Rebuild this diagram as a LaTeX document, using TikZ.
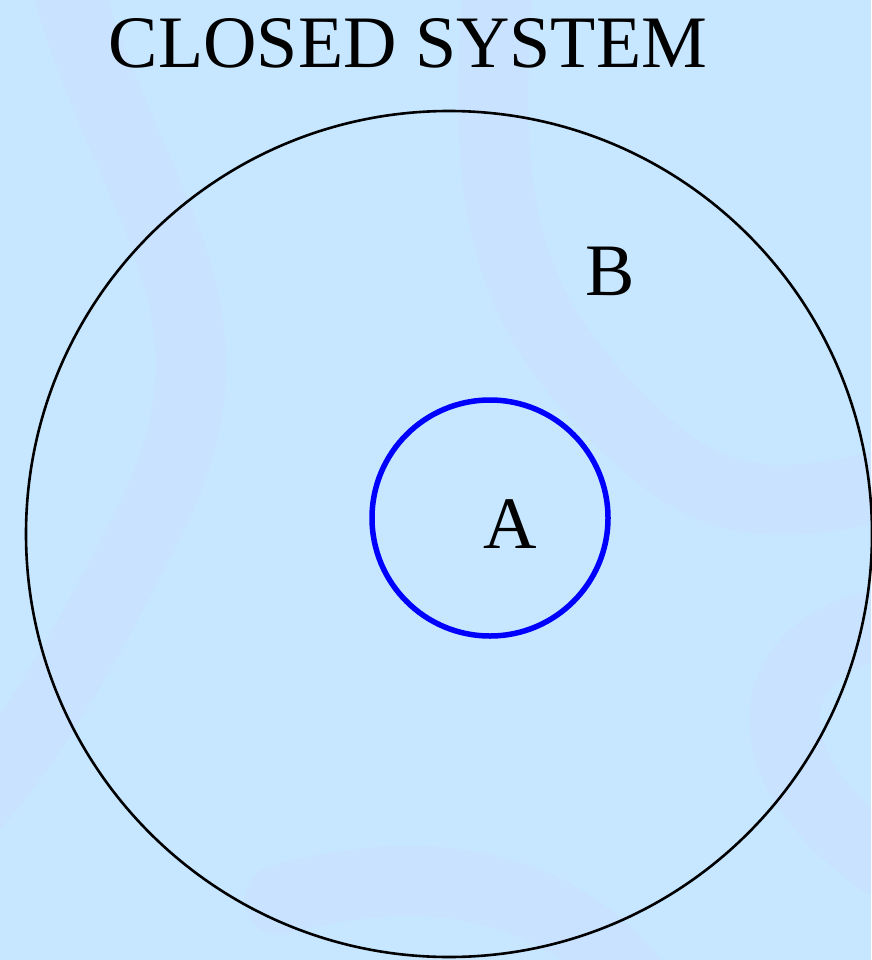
\documentclass[tikz,border=0pt]{standalone}
\usepackage{fontspec}
\setmainfont{Liberation Serif}
\definecolor{bgBlue}{RGB}{198,231,255}
\definecolor{swirlBlue}{RGB}{200,226,255}
\definecolor{ringBlue}{RGB}{0,0,255}

\begin{document}
\begin{tikzpicture}[
  x=1pt, y=-1pt,
  font=\fontsize{74}{80}\selectfont,
  swirl/.style={
    swirlBlue,
    line width=70pt,
    line cap=round,
  },
  sysring/.style={
    circle,
    draw=black,
    line width=2.6pt,
    inner sep=0pt,
    minimum size=846pt,
  },
  subring/.style={
    circle,
    draw=ringBlue,
    line width=5.5pt,
    inner sep=0pt,
    minimum size=236pt,
  },
  lbl/.style={anchor=base, inner sep=0pt},
]

  % background
  \fill[bgBlue] (0,0) rectangle (871,960);
  \useasboundingbox (0,0) rectangle (871,960);

  \begin{scope}
    \clip (0,0) rectangle (871,960);
    \draw[swirl] (60,-40) .. controls (120,200) and (260,300) .. (150,520)
      .. controls (80,660) and (20,760) .. (-40,820);
    \draw[swirl] (500,-40) .. controls (480,200) and (500,300) .. (620,420)
      .. controls (700,500) and (760,520) .. (900,480);
    \draw[swirl] (900,620) .. controls (760,640) and (740,760) .. (880,860);
    \draw[swirl] (280,900) .. controls (420,860) and (560,880) .. (640,990);
  \end{scope}

  \node[lbl] (title) at (408,68) {CLOSED SYSTEM};

  \node[sysring] (B) at (449,534) {};
  \node[subring] (A) at (490,518) {};

  \node[lbl] (Blbl) at (610,295) {B};
  \node[lbl] (Albl) at (510,548) {A};

\end{tikzpicture}
\end{document}
